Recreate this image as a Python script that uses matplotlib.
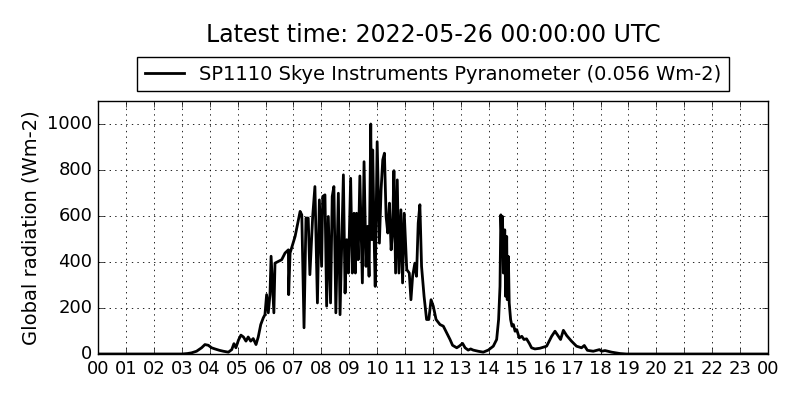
import matplotlib
matplotlib.use("Agg")
import matplotlib.pyplot as plt

plt.style.use("classic")
plt.rcParams["figure.facecolor"] = "white"
plt.rcParams["savefig.facecolor"] = "white"

# hours since 00 UTC and global radiation (Wm-2)
hours = [
    0.0, 3.0, 3.2, 3.35, 3.53, 3.71, 3.83, 3.95, 4.07, 4.19, 4.35, 4.49, 4.67, 4.79,
    4.87, 4.94, 5.03, 5.12, 5.21, 5.3, 5.38, 5.47, 5.56, 5.66, 5.74, 5.83, 5.92, 5.98,
    6.04, 6.1, 6.16, 6.2, 6.3, 6.34, 6.58, 6.7, 6.82, 6.83, 6.88, 7.06, 7.24, 7.3,
    7.38, 7.45, 7.53, 7.59, 7.69, 7.77, 7.83, 7.86, 7.93, 8.01, 8.05, 8.13, 8.19, 8.25,
    8.33, 8.39, 8.45, 8.52, 8.61, 8.67, 8.79, 8.85, 8.91, 8.97, 9.05, 9.11, 9.17, 9.22,
    9.26, 9.32, 9.38, 9.47, 9.53, 9.6, 9.66, 9.71, 9.77, 9.81, 9.84, 9.9, 9.93, 10.0,
    10.08, 10.14, 10.2, 10.26, 10.32, 10.38, 10.44, 10.5, 10.55, 10.6, 10.66, 10.72,
    10.78, 10.85, 10.91, 10.97, 11.06, 11.15, 11.21, 11.27, 11.35, 11.41, 11.47, 11.53,
    11.59, 11.68, 11.77, 11.85, 11.93, 12.01, 12.11, 12.25, 12.37, 12.49, 12.61, 12.7,
    12.85, 12.94, 13.06, 13.15, 13.26, 13.35, 13.44, 13.62, 13.8, 13.98, 14.16, 14.28,
    14.35, 14.4, 14.43, 14.47, 14.49, 14.52, 14.57, 14.6, 14.64, 14.66, 14.7, 14.73,
    14.78, 14.83, 14.88, 14.94, 15.0, 15.09, 15.18, 15.26, 15.35, 15.45, 15.53, 15.65,
    15.83, 16.07, 16.25, 16.37, 16.49, 16.57, 16.67, 16.79, 16.96, 17.14, 17.32, 17.42,
    17.53, 17.74, 17.96, 18.04, 18.16, 18.4, 18.7, 18.93, 24.0,
]
radiation = [
    0, 0, 2, 5, 12, 27, 41, 38, 27, 22, 16, 12, 8, 19,
    45, 27, 60, 82, 74, 56, 74, 56, 67, 41, 74, 128, 157, 171,
    258, 179, 258, 425, 179, 395, 410, 439, 453, 258, 439, 511, 620, 605,
    114, 591, 591, 345, 598, 728, 388, 222, 670, 381, 685, 692, 208, 598,
    222, 685, 728, 179, 699, 171, 779, 265, 497, 352, 764, 352, 612, 352,
    612, 410, 774, 309, 836, 381, 555, 338, 1000, 497, 887, 453, 294, 923,
    482, 713, 844, 873, 598, 526, 656, 453, 526, 797, 352, 757,
    352, 627, 309, 612, 367, 352, 236, 338, 395, 338, 569, 649,
    381, 251, 150, 150, 236, 208, 150, 128, 121, 92, 63, 38,
    27, 34, 46, 27, 17, 22, 17, 12, 8, 17, 34, 63,
    150, 294, 605, 468, 598, 352, 540, 251, 511, 236, 424, 222,
    150, 121, 128, 99, 106, 70, 77, 63, 66, 46, 27, 22,
    25, 34, 77, 99, 77, 63, 103, 80, 56, 34, 27, 37,
    16, 12, 19, 12, 15, 8, 2, 0, 0,
]

tick_hours = list(range(25))
tick_labels = ["%02d" % (h % 24) for h in tick_hours]
y_ticks = [0, 200, 400, 600, 800, 1000]

fig = plt.figure(figsize=(8, 4), dpi=100)
ax = fig.add_axes([0.1225, 0.115, 0.8375, 0.6325])

ax.plot(hours, radiation, color="black", linewidth=2,
        label="SP1110 Skye Instruments Pyranometer (0.056 Wm-2)")

ax.set_xlim(0, 24)
ax.set_ylim(0, 1100)
ax.set_xticks(tick_hours)
ax.set_xticklabels(tick_labels)
ax.set_yticks(y_ticks)
ax.tick_params(labelsize=13)
ax.grid(True, color="black", linestyle=":", linewidth=0.6)
ax.set_ylabel("Global radiation (Wm-2)", fontsize=14)

leg = ax.legend(loc="lower center", bbox_to_anchor=(0.5, 1.0), fontsize=14,
                fancybox=False, handlelength=2.0, numpoints=1)
leg.get_frame().set_edgecolor("black")

fig.text(433 / 800, 1 - 35 / 400, "Latest time: 2022-05-26 00:00:00 UTC",
         ha="center", va="center", fontsize=17)

plt.savefig("out.png", dpi=100)
plt.close()
